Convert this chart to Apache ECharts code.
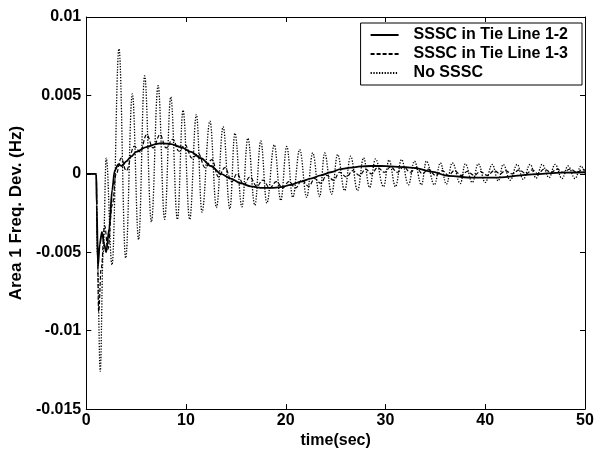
<!DOCTYPE html>
<html>
<head>
<meta charset="utf-8">
<script src="https://cdn.jsdelivr.net/npm/echarts@6/dist/echarts.min.js"></script>
<style>
html,body{margin:0;padding:0;background:#fff;}
#chart{width:597px;height:454px;}
</style>
</head>
<body>
<div id="chart"></div>
<script>
// ---- data (time in s, frequency deviation in Hz) ----
const seriesNames = ['SSSC in Tie Line 1-2', 'SSSC in Tie Line 1-3', 'No SSSC'];
const xTickLabels = ['0', '10', '20', '30', '40', '50'];
const yTickLabels = ['-0.015', '-0.01', '-0.005', '0', '0.005', '0.01'];

const tieLine12 = [
  [0,0],[1.0,0],[1.05,-0.002],[1.17,-0.0059],[1.35,-0.0045],[1.57,-0.0037],[1.8,-0.0045],[2.0,-0.0050],
  [2.3,-0.0035],[2.6,-0.0010],[2.85,0.0002],[3.2,0.0006],[3.6,0.0005],[4.0,0.0008],[4.5,0.0011],[5,0.0014],
  [6,0.0017],[7,0.0019],[7.5,0.00195],[8.5,0.0019],[9.5,0.0017],[10.5,0.0014],[11.5,0.0010],[12.5,0.0005],
  [13.5,0.0],[14.5,-0.0003],[15.5,-0.0006],[16.5,-0.0008],[17.5,-0.0009],[18.5,-0.0009],[19.5,-0.00085],
  [20.5,-0.0007],[21.5,-0.0005],[22.5,-0.0003],[23.5,-0.0001],[24.5,0.0001],[25.5,0.0003],[26.5,0.0004],
  [27.5,0.00047],[28.5,0.0005],[29.5,0.0005],[30.5,0.00048],[32,0.00042],[33,0.00036],[34.6,0.00014],
  [36.3,-0.00013],[38.7,-0.00024],[41.3,-0.00024],[44.7,-0.00003],[47.7,0.00008],[50,0.0001]
];

const tieLine13 = [
  [0,0],[1.0,0],[1.1,-0.004],[1.24,-0.0088],[1.5,-0.006],[1.84,-0.0033],[2.17,-0.0048],[2.6,-0.002],[3.0,0.0],
  [3.5,0.0010],[4.0,0.0002],[4.8,0.00175],[5.4,0.0014],[6.05,0.0025],[6.7,0.00165],[7.4,0.0025],[8.0,0.00165],
  [8.67,0.0022],[9.3,0.00144],[9.9,0.00185],[10.6,0.0010],[11.24,0.0013],[11.9,0.0004],[12.6,0.0009],
  [13.25,-0.0002],[13.9,0.0004],[14.6,-0.0005],[15.1,0.0],[15.8,-0.0007],[16.4,-0.0002],[17.1,-0.0008],
  [17.7,-0.0004],[18.4,-0.0009],[19.05,-0.0005],[19.7,-0.0009],[20.3,-0.0005],[21.0,-0.0009],[21.6,-0.0004],
  [22.3,-0.0008],[22.9,-0.0003],[23.5,-0.0006],[24.1,-0.0001],[24.8,-0.0004],[25.4,0.0001],[26.1,-0.0002],
  [26.7,0.0002],[27.4,-0.0001],[28.0,0.0003],[28.6,0.0],[29.2,0.0004],[29.9,0.0001],[30.5,0.00045],
  [31.2,0.0001],[31.8,0.00045],[32.5,0.0001],[33.1,0.0004],[33.7,0.0],[34.3,0.0003],[35.0,-0.0001],
  [35.7,0.0002],[36.3,-0.0001],[36.9,0.0002],[37.6,-0.0001],[38.2,0.00015],[38.9,-0.0001],[39.5,0.00015],
  [40.2,-0.0001],[40.9,0.0002],[41.5,0.0],[42.0,0.0002],[42.7,0.0],[43.4,0.00025],[44.1,0.0],[44.7,0.00025],
  [45.3,0.0],[45.9,0.0003],[46.6,0.0001],[47.2,0.0003],[47.8,0.0001],[48.5,0.0003],[49.2,0.0001],[49.8,0.0003],[50,0.0002]
];

const noSSSC = [
  [0,0],[1.0,0],[1.1,-0.005],[1.4,-0.0126],[1.7,-0.005],[2.0,0.0010],[2.58,-0.0058],[3.28,0.00797],
  [3.95,-0.00537],[4.62,0.0051],[5.25,-0.0042],[5.85,0.00625],[6.53,-0.00307],[7.2,0.00562],[7.86,-0.0029],
  [8.47,0.0049],[9.14,-0.0029],[9.7,0.00405],[10.37,-0.0029],[11.04,0.00378],[11.6,-0.00244],[12.4,0.00336],
  [13.05,-0.00215],[13.72,0.0030],[14.4,-0.00223],[14.9,0.00259],[15.6,-0.0021],[16.2,0.00227],[16.9,-0.0020],
  [17.5,0.0021],[18.1,-0.00187],[18.85,0.00185],[19.5,-0.0017],[20.1,0.00175],[20.7,-0.0015],[21.4,0.00154],
  [22.1,-0.0015],[22.7,0.00133],[23.4,-0.00145],[23.9,0.00133],[24.6,-0.00129],[25.2,0.00123],[25.9,-0.00107],
  [26.5,0.00112],[27.2,-0.00107],[27.8,0.00102],[28.4,-0.00087],[29.0,0.00095],[29.8,-0.00082],[30.35,0.00088],
  [31.0,-0.00082],[31.6,0.00091],[32.3,-0.0007],[32.9,0.00081],[33.6,-0.0007],[34.1,0.00081],[34.9,-0.0007],
  [35.5,0.0007],[36.1,-0.00066],[36.7,0.0007],[37.5,-0.00062],[38.0,0.00064],[38.7,-0.00055],[39.3,0.00064],
  [40.0,-0.00055],[40.7,0.0006],[41.3,-0.00045],[41.8,0.0006],[42.5,-0.00041],[43.2,0.0006],[43.8,-0.00035],
  [44.5,0.0006],[45.1,-0.00028],[45.7,0.0006],[46.4,-0.00024],[47.0,0.0006],[47.7,-0.0003],[48.3,0.0005],
  [49.0,-0.0003],[49.6,0.0005],[50,0.0]
];

// ---- chart ----
const chart = echarts.init(document.getElementById('chart'), null, {renderer: 'canvas'});
const FONT = 'Liberation Sans, Arial, sans-serif';
const xMin = 0, xMax = 50, xInt = 10;
const yMin = -0.015, yMax = 0.01, yInt = 0.005;

function yLabel(v) {
  const i = Math.round((v - yMin) / yInt);
  return yTickLabels[i] !== undefined ? yTickLabels[i] : '';
}
function xLabel(v) {
  const i = Math.round((v - xMin) / xInt);
  return xTickLabels[i] !== undefined ? xTickLabels[i] : '';
}

const axisLineStyle = {show: true, onZero: false, lineStyle: {color: '#000', width: 1}};
const tickStyle = {show: true, inside: true, length: 5, lineStyle: {color: '#000', width: 1}};
const txt = {fontFamily: FONT, fontWeight: 'bold', fontSize: 16, color: '#000'};

chart.setOption({
  animation: false,
  backgroundColor: '#fff',
  grid: {left: 85, right: 12, top: 17, bottom: 39, containLabel: false},
  legend: {
    data: seriesNames,
    orient: 'vertical',
    right: 15,
    top: 23,
    backgroundColor: '#fff',
    borderColor: '#000',
    borderWidth: 1,
    borderRadius: 0,
    padding: [4, 14, 4, 9],
    itemGap: 3,
    itemWidth: 28,
    itemHeight: 14,
    itemStyle: {opacity: 0},
    textStyle: Object.assign({padding: [0, 0, 0, 10]}, txt)
  },
  xAxis: [{
    type: 'value', min: xMin, max: xMax, interval: xInt,
    position: 'bottom',
    name: 'time(sec)', nameLocation: 'middle', nameGap: 21,
    nameTextStyle: txt,
    axisLine: axisLineStyle, axisTick: tickStyle,
    axisLabel: Object.assign({formatter: xLabel, margin: 3}, txt),
    splitLine: {show: false}
  }, {
    type: 'value', min: xMin, max: xMax, interval: xInt,
    position: 'top',
    axisLine: axisLineStyle, axisTick: tickStyle,
    axisLabel: {show: false}, splitLine: {show: false}
  }],
  yAxis: [{
    type: 'value', min: yMin, max: yMax, interval: yInt,
    position: 'left',
    name: 'Area 1 Freq. Dev. (Hz)', nameLocation: 'middle', nameGap: 44, nameRotate: 90,
    nameTextStyle: Object.assign({}, txt, {fontSize: 17}),
    axisLine: axisLineStyle, axisTick: tickStyle,
    axisLabel: Object.assign({formatter: yLabel, margin: 5}, txt),
    splitLine: {show: false}
  }, {
    type: 'value', min: yMin, max: yMax, interval: yInt,
    position: 'right',
    axisLine: axisLineStyle, axisTick: tickStyle,
    axisLabel: {show: false}, splitLine: {show: false}
  }],
  series: [{
    name: seriesNames[0], type: 'line', data: tieLine12, symbol: 'none',
    smooth: 0.3, smoothMonotone: 'x',
    lineStyle: {color: '#000', width: 1.8, type: 'solid'}, itemStyle: {color: '#000'}, z: 3
  }, {
    name: seriesNames[1], type: 'line', data: tieLine13, symbol: 'none',
    smooth: 0.4, smoothMonotone: 'x',
    lineStyle: {color: '#000', width: 1.2, type: [4, 2]}, itemStyle: {color: '#000'}, z: 2
  }, {
    name: seriesNames[2], type: 'line', data: noSSSC, symbol: 'none',
    smooth: 0.4, smoothMonotone: 'x',
    lineStyle: {color: '#000', width: 1.3, type: [1.3, 1.5]}, itemStyle: {color: '#000'}, z: 1
  }]
});
</script>
</body>
</html>
